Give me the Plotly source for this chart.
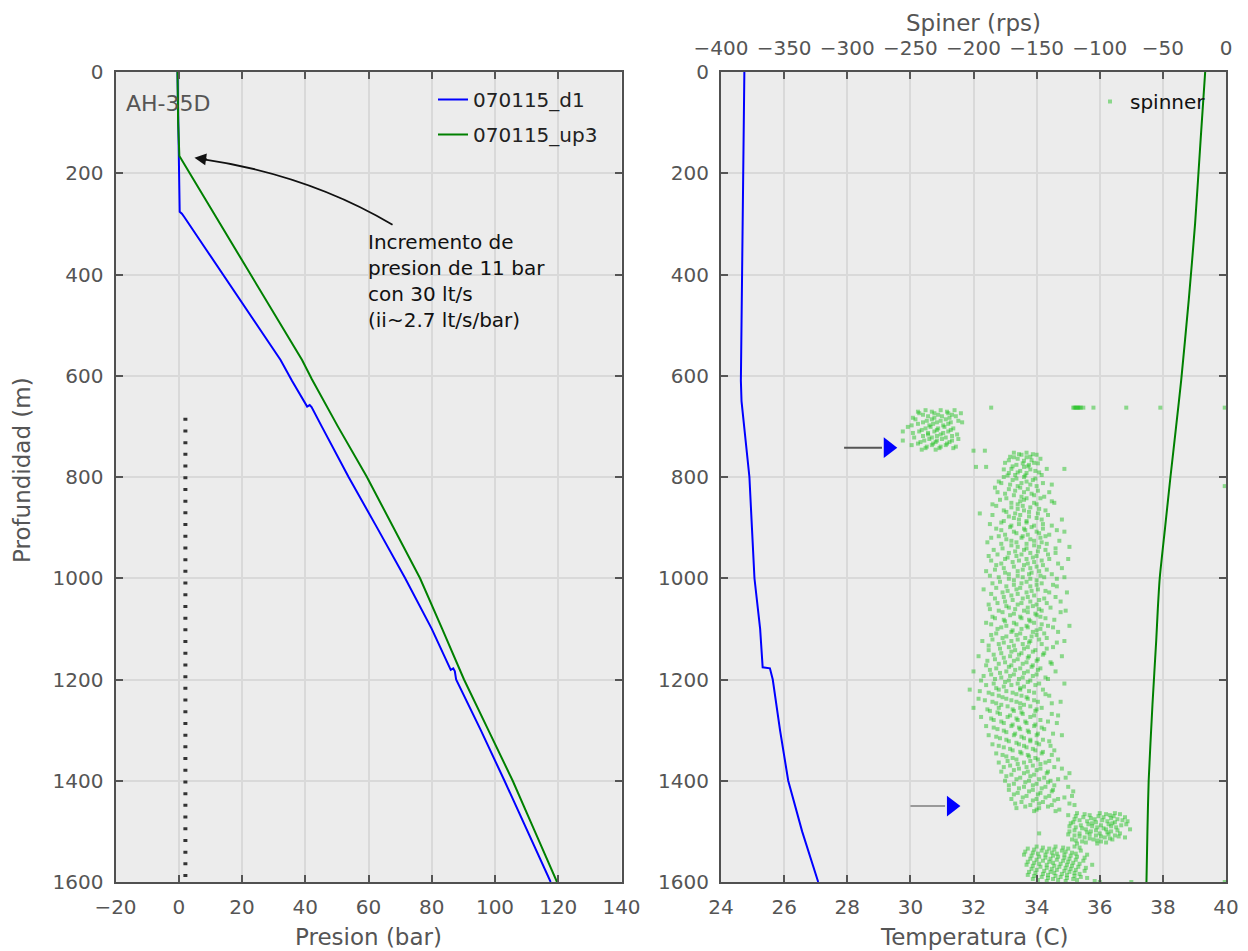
import plotly.graph_objects as go

# page is 1248x951; the html body adds an 8px margin, so the figure is drawn 8px in
PAGE_OFF = 8
W, H = 1240, 943
FONT = "DejaVu Sans"

# ---------------- Left panel: pressure vs depth ----------------
d1_depth = [0, 100, 160, 276, 280, 287, 350, 450, 569, 610, 655, 661, 658, 662, 700, 800,
            900, 1000, 1100, 1175, 1181, 1178, 1184, 1200, 1300, 1400, 1500, 1600]
d1_pres = [-0.4, -0.2, 0.1, 0.3, 1.0, 1.8, 8.6, 19.4, 32.2, 35.8, 40.0, 40.6, 41.4, 42.0, 45.2, 53.7,
           62.7, 71.6, 80.0, 85.7, 86.0, 86.8, 87.3, 87.7, 95.5, 103.0, 110.3, 117.6]

up3_depth = [0, 100, 166, 250, 350, 450, 569, 607, 700, 800, 900, 1000, 1100, 1200, 1300, 1400, 1500, 1600]
up3_pres = [-0.4, -0.2, 0.2, 8.3, 18.0, 27.6, 39.0, 42.1, 50.3, 59.5, 68.0, 76.3, 83.3, 90.2, 97.9, 105.6, 112.6, 119.6]

dotted_pres = [2.1, 2.1]
dotted_depth = [683, 1600]

# ---------------- Right panel: temperature vs depth ----------------
tb_depth = [0, 60, 120, 200, 300, 400, 500, 610, 650, 680, 720, 800, 900, 1000, 1100, 1176,
            1178, 1190, 1200, 1300, 1400, 1500, 1600]
tb_temp = [24.74, 24.73, 24.71, 24.71, 24.69, 24.68, 24.66, 24.63, 24.65, 24.70, 24.78, 24.90, 24.98,
           25.06, 25.24, 25.32, 25.55, 25.60, 25.64, 25.87, 26.13, 26.57, 27.08]

tg_depth = [0, 130, 300, 450, 609, 700, 800, 900, 1000, 1060, 1122, 1250, 1400, 1500, 1600]
tg_temp = [39.34, 39.20, 39.02, 38.82, 38.58, 38.42, 38.24, 38.07, 37.90, 37.84, 37.79, 37.67, 37.55, 37.51, 37.48]

# spinner readings (rps) by depth (m)
spin_rows = [
    (663, [-186, -121, -120, -119, -118, -117, -116, -115, -113, -105, -79, -52, -1]),
    (668, [-238, -226, -215]), (674, [-243, -231, -220, -210]), (680, [-236, -225, -214]),
    (686, [-246, -233, -222]), (692, [-240, -229, -218, -209]), (698, [-249, -235, -224]),
    (704, [-238, -228, -216]), (710, [-256, -243, -231, -220]), (716, [-236, -226, -213]),
    (722, [-247, -233, -222]), (728, [-256, -239, -229, -217]), (734, [-244, -232, -221]),
    (740, [-237, -226, -214]), (746, [-241, -230]), (748, [-200, -191]),
    (671, [-233, -221, -244]), (677, [-240, -228, -217]), (683, [-231, -219, -248]),
    (689, [-237, -226, -212]), (695, [-244, -232, -220]), (701, [-234, -223, -252]),
    (707, [-241, -229, -218]), (713, [-248, -236, -224]), (719, [-240, -229, -217]),
    (725, [-235, -225, -212]), (731, [-242, -230, -219]), (737, [-233, -222, -249]),
    (743, [-238, -227, -216]),
    (752, [-168, -158]), (756, [-162, -150]), (760, [-171, -155]), (764, [-165, -147]),
    (768, [-160]), (772, [-175, -152]), (776, [-166, -156]), (780, [-198, -190, -160]),
    (784, [-170, -142, -128]), (788, [-163, -151]), (792, [-172, -158]), (796, [-167, -146]),
    (800, [-160, -176]), (806, [-169, -153]), (812, [-178, -162, -145]), (818, [-165, -150, -1]),
    (824, [-172, -157]), (830, [-181, -160, -140]), (836, [-168, -152]), (842, [-174, -158, -147]),
    (848, [-163, -138]), (854, [-185, -165, -150]), (860, [-170, -155]), (866, [-176, -160, -143]),
    (872, [-195, -167, -149]), (878, [-172, -156]), (884, [-164, -146, -130]), (890, [-178, -158]),
    (896, [-170, -152, -138]), (902, [-182, -160, -145]), (908, [-168, -150, -128]),
    (914, [-175, -157, -140]), (920, [-186, -162, -147]), (926, [-170, -152, -132]),
    (932, [-178, -158, -142]), (938, [-165, -148, -124]), (944, [-184, -160, -143]),
    (950, [-172, -155, -135]), (956, [-188, -166, -150]), (962, [-175, -158, -140, -125]),
    (968, [-169, -152]), (974, [-182, -160, -145]), (980, [-176, -155, -130]),
    (986, [-190, -165, -148]), (992, [-172, -156, -138]), (998, [-180, -161, -144, -128]),
    (1004, [-168, -150]), (1010, [-185, -162, -146]), (1016, [-174, -155, -134]),
    (1022, [-192, -166, -149]), (1028, [-177, -158, -140, -126]), (1034, [-170, -152]),
    (1040, [-183, -161, -144]), (1046, [-175, -155, -131]), (1052, [-188, -165, -150]),
    (1058, [-172, -157, -139]), (1064, [-180, -160, -146, -127]), (1070, [-168, -151]),
    (1076, [-185, -163, -147]), (1082, [-176, -156, -136]), (1088, [-190, -168, -152]),
    (1094, [-174, -158, -141, -124]), (1100, [-181, -162, -147]), (1106, [-170, -153, -133]),
    (1112, [-186, -166, -150]), (1118, [-177, -159, -142]), (1124, [-193, -170, -155, -128]),
    (1130, [-180, -161, -146]), (1136, [-172, -157, -137]), (1142, [-188, -167, -151]),
    (1148, [-178, -162, -144]), (1154, [-196, -171, -156, -130]), (1160, [-183, -165, -149]),
    (1166, [-175, -158, -139]), (1172, [-190, -170, -153]), (1178, [-182, -163, -147]),
    (1184, [-200, -174, -157, -135]), (1190, [-186, -168, -150]), (1196, [-178, -161, -143]),
    (1202, [-194, -172, -155]), (1208, [-184, -165, -148, -128]), (1214, [-176, -160]),
    (1220, [-203, -180, -163, -145]), (1226, [-188, -169, -152]), (1232, [-180, -162, -140]),
    (1238, [-196, -174, -157]), (1244, [-185, -166, -149, -131]), (1250, [-178, -160]),
    (1256, [-200, -180, -163, -146]), (1262, [-187, -168, -151]), (1268, [-179, -161, -138]),
    (1274, [-194, -173, -155]), (1280, [-184, -165, -147]), (1286, [-176, -158, -134]),
    (1292, [-190, -170, -152]), (1298, [-181, -163, -144]), (1304, [-174, -156]),
    (1310, [-188, -168, -150, -130]), (1316, [-179, -160]), (1322, [-172, -155, -140]),
    (1328, [-185, -164, -148]), (1334, [-176, -158]), (1340, [-169, -151, -136]),
    (1346, [-182, -162, -146]), (1352, [-174, -156]), (1358, [-166, -149, -133]),
    (1364, [-180, -160, -143]), (1370, [-171, -153]), (1376, [-164, -147, -130]),
    (1382, [-178, -157, -141]), (1388, [-170, -152]), (1394, [-163, -144, -127]),
    (1400, [-175, -156, -139]), (1406, [-168, -150]), (1412, [-160, -143, -125]),
    (1418, [-172, -153, -137]), (1424, [-165, -147]), (1430, [-158, -140, -122]),
    (1436, [-170, -150, -133]), (1442, [-162, -145]), (1448, [-155, -138, -120]),
    (1454, [-166, -148]), (1460, [-152, -135]),
    (755, [-164, -153]), (761, [-158, -168]), (767, [-172, -154]), (773, [-161, -149]),
    (779, [-169, -157]), (785, [-176, -155]), (791, [-165, -148]), (797, [-173, -159]),
    (803, [-166, -151]), (809, [-180, -158]), (815, [-171, -155, -138]), (821, [-183, -163]),
    (827, [-167, -149]), (833, [-175, -154]), (839, [-162, -144]), (845, [-179, -160]),
    (851, [-170, -152, -136]), (857, [-182, -161]), (863, [-165, -148]), (869, [-174, -156]),
    (875, [-185, -163, -141]), (881, [-168, -150]), (887, [-176, -158]), (893, [-187, -164, -145]),
    (899, [-171, -154]), (905, [-178, -159, -134]), (911, [-166, -148]), (917, [-180, -161, -143]),
    (923, [-174, -155]), (929, [-189, -166, -146]), (935, [-170, -152]), (941, [-177, -158, -135]),
    (947, [-167, -149]), (953, [-181, -162, -141]), (959, [-173, -153]), (965, [-186, -164, -146]),
    (971, [-178, -157, -133]), (977, [-168, -150]), (983, [-183, -161, -142]), (989, [-175, -154]),
    (995, [-187, -165, -147]), (1001, [-172, -155, -134]), (1007, [-179, -158]),
    (1013, [-168, -150, -137]), (1019, [-182, -163]), (1025, [-173, -154, -143]),
    (1031, [-186, -165]), (1037, [-176, -157, -135]), (1043, [-169, -148]),
    (1049, [-181, -162, -142]), (1055, [-174, -153]), (1061, [-187, -167, -148]),
    (1067, [-177, -157, -131]), (1073, [-171, -150]), (1079, [-183, -162, -143]),
    (1085, [-175, -155]), (1091, [-186, -166, -146]), (1097, [-178, -157, -137]),
    (1103, [-169, -150]), (1109, [-182, -163, -144]), (1115, [-174, -154]),
    (1121, [-185, -165, -148]), (1127, [-176, -156, -134]), (1133, [-188, -168]),
    (1139, [-179, -160, -142]), (1145, [-170, -153]), (1151, [-184, -164, -145]),
    (1157, [-176, -157]), (1163, [-189, -168, -150]), (1169, [-180, -161, -138]),
    (1175, [-172, -154]), (1181, [-187, -167, -149]), (1187, [-179, -160]),
    (1193, [-192, -171, -153]), (1199, [-183, -164, -141]), (1205, [-175, -157]),
    (1211, [-190, -170, -151]), (1217, [-182, -163]), (1223, [-195, -174, -156]),
    (1229, [-185, -166, -143]), (1235, [-177, -158]), (1241, [-191, -170, -152]),
    (1247, [-182, -163, -138]), (1253, [-173, -155]), (1259, [-189, -169, -150]),
    (1265, [-181, -162]), (1271, [-171, -152, -133]), (1277, [-186, -166]),
    (1283, [-178, -159, -141]), (1289, [-169, -151]), (1295, [-184, -164, -146]),
    (1301, [-176, -157]), (1307, [-167, -149, -137]), (1313, [-182, -162]),
    (1319, [-174, -155, -145]), (1325, [-166, -150]), (1331, [-180, -160, -139]),
    (1337, [-171, -153]), (1343, [-163, -145]), (1349, [-177, -157, -138]),
    (1355, [-169, -151]), (1361, [-173, -155, -140]), (1367, [-165, -147]),
    (1373, [-176, -158, -136]), (1379, [-168, -150]), (1385, [-160, -142, -124]),
    (1391, [-174, -155]), (1397, [-166, -148, -133]), (1403, [-159, -141]),
    (1409, [-172, -153, -136]), (1415, [-164, -146]), (1421, [-156, -138, -121]),
    (1427, [-168, -149]), (1433, [-161, -143, -128]), (1439, [-153, -136]),
    (1445, [-167, -148, -124]), (1451, [-159, -141]), (1457, [-150, -132]),
    (1464, [-118, -100, -88]), (1468, [-125, -108, -92]), (1472, [-113, -97, -80]),
    (1476, [-120, -104, -86]), (1480, [-110, -94, -78]), (1484, [-123, -106, -90]),
    (1488, [-115, -99, -83]), (1492, [-119, -102, -87]), (1496, [-111, -95, -76]),
    (1500, [-124, -107, -91]), (1504, [-148, -116, -100, -84]), (1508, [-120, -103, -88]),
    (1512, [-112, -96, -80]), (1516, [-122, -105, -90]), (1520, [-114, -99]), (1524, [-118, -102]),
    (1466, [-112, -95, -84]), (1470, [-119, -101, -89]), (1474, [-107, -91]),
    (1478, [-116, -98, -82]), (1482, [-121, -103, -88]), (1486, [-109, -93, -79]),
    (1490, [-124, -106, -91]), (1494, [-114, -97]), (1498, [-120, -103, -86]),
    (1502, [-110, -94]), (1506, [-125, -108, -93]), (1510, [-116, -99, -85]),
    (1514, [-108, -92]), (1518, [-119, -102]), (1522, [-111, -95]),
    (1530, [-150, -135, -120]), (1534, [-157, -140, -125]), (1538, [-146, -130, -115]),
    (1542, [-153, -138, -122]), (1546, [-160, -143, -128, -110]), (1550, [-148, -133, -118]),
    (1554, [-155, -139, -124]), (1558, [-145, -129, -113]), (1562, [-152, -137, -121]),
    (1566, [-158, -142, -126, -106]), (1570, [-147, -132, -117]), (1574, [-154, -138, -123]),
    (1578, [-144, -128, -112]), (1582, [-151, -136, -120]), (1586, [-157, -141, -126]),
    (1590, [-146, -131, -115]), (1594, [-153, -137, -121]), (1598, [-142, -127, -104]),
    (1532, [-145, -129, -116]), (1536, [-152, -136]), (1540, [-159, -142, -127]),
    (1544, [-149, -134, -119]), (1548, [-154, -137, -123]), (1552, [-143, -128, -112]),
    (1556, [-150, -134, -119]), (1560, [-157, -140, -125]), (1564, [-148, -131, -116]),
    (1568, [-153, -136, -122]), (1572, [-142, -127, -111]), (1576, [-150, -134, -119]),
    (1580, [-156, -139, -124]), (1584, [-145, -130, -116]), (1588, [-152, -135, -120]),
    (1592, [-141, -126, -110]), (1596, [-149, -133, -118]),
    (1600, [-100, -75, -1]),
]

# marker arrows in the right panel (temperature units)
arrow_depth = [742, 1450]
arrow_tail = [27.9, 30.0]
arrow_tip = [29.6, 31.6]
arrow_shaft_color = ["#555555", "#999999"]

spin_depth = [d for d, vals in spin_rows for _ in vals]
spin_rps = [v for d, vals in spin_rows for v in vals]

def px(x):
    """page pixel x -> paper fraction"""
    return (x - PAGE_OFF) / W

def py(y):
    """page pixel y -> paper fraction"""
    return 1 - (y - PAGE_OFF) / H

XL = [px(115.5), px(621.5)]
XR = [px(721), px(1226)]
YD = [py(882), py(72)]

fig = go.Figure()

fig.add_trace(go.Scatter(x=d1_pres, y=d1_depth, mode="lines", name="070115_d1",
                         line=dict(color="#0000ff", width=2), xaxis="x", yaxis="y",
                         legendgroup="a", legend="legend"))
fig.add_trace(go.Scatter(x=up3_pres, y=up3_depth, mode="lines", name="070115_up3",
                         line=dict(color="#008000", width=2), xaxis="x", yaxis="y",
                         legendgroup="b", legend="legend"))
fig.add_trace(go.Scatter(x=dotted_pres, y=dotted_depth, mode="lines", showlegend=False,
                         line=dict(color="#333333", width=4, dash="3px,8.7px"), xaxis="x", yaxis="y"))

fig.add_trace(go.Scatter(x=tb_temp, y=tb_depth, mode="lines", showlegend=False,
                         line=dict(color="#0000ff", width=2), xaxis="x2", yaxis="y2"))
fig.add_trace(go.Scatter(x=tg_temp, y=tg_depth, mode="lines", showlegend=False,
                         line=dict(color="#008000", width=2, shape="spline", smoothing=0.6),
                         xaxis="x2", yaxis="y2"))
fig.add_trace(go.Scatter(x=spin_rps, y=spin_depth, mode="markers", name="spinner",
                         marker=dict(symbol="square", size=4, color="rgba(20,190,20,0.45)",
                                     line=dict(width=0)),
                         xaxis="x3", yaxis="y2", legend="legend2"))

# arrow heads
head_x = [t - 0.3 for t in arrow_tip]
fig.add_trace(go.Scatter(x=head_x, y=arrow_depth, mode="markers", showlegend=False,
                         marker=dict(symbol="triangle-right", size=18, color="#0000ff",
                                     line=dict(width=0)),
                         xaxis="x2", yaxis="y2"))

shapes = []
for d, t0, t1, c in zip(arrow_depth, arrow_tail, arrow_tip, arrow_shaft_color):
    shapes.append(dict(type="line", xref="x2", yref="y2", x0=t0, x1=t1 - 0.5, y0=d, y1=d,
                       line=dict(color=c, width=2)))

# curved arrow for the annotation (data coords of left panel)
curve_start = (67.6, 301.6)
curve_ctrl = (40.7, 201.9)
curve_end = (6.5, 171.0)
shapes.append(dict(type="path", xref="x", yref="y",
                   path=f"M {curve_start[0]},{curve_start[1]} Q {curve_ctrl[0]},{curve_ctrl[1]} {curve_end[0]},{curve_end[1]}",
                   line=dict(color="#111111", width=1.8)))

tick_font = dict(family=FONT, size=20, color="#555555")
title_font = dict(family=FONT, size=23, color="#555555")
axis_common = dict(ticks="inside", ticklen=7, tickwidth=1.5, tickcolor="#555555",
                   showline=True, linecolor="#505050", linewidth=2,
                   gridcolor="#d9d9d9", gridwidth=1.5, zeroline=False,
                   tickfont=tick_font, tickangle=0, automargin=False)

fig.update_layout(
    width=W, height=H,
    margin=dict(l=0, r=0, t=0, b=0, autoexpand=False),
    paper_bgcolor="white", plot_bgcolor="#ececec",
    font=dict(family=FONT),
    xaxis=dict(domain=XL, range=[-20, 140], dtick=20, tick0=0, anchor="y", mirror="ticks",
               ticklabelstandoff=6, **axis_common),
    yaxis=dict(domain=YD, range=[1600, 0], dtick=200, anchor="x", mirror="ticks",
               ticklabelstandoff=6, **axis_common),
    xaxis2=dict(domain=XR, range=[24, 40], dtick=2, anchor="y2", mirror="ticks",
                ticklabelstandoff=6, **axis_common),
    yaxis2=dict(domain=YD, range=[1600, 0], dtick=200, anchor="x2", mirror="ticks",
                ticklabelstandoff=6, **axis_common),
    xaxis3=dict(range=[-400, 0], dtick=50, overlaying="x2", side="top", anchor="y2",
                showgrid=False, ticks="inside", ticklen=7, tickwidth=1.5, tickcolor="#555555",
                showline=False, zeroline=False, tickfont=tick_font, tickangle=0,
                ticklabelstandoff=12, automargin=False),
    legend=dict(x=px(433), y=py(80), xanchor="left", yanchor="top", bgcolor="rgba(0,0,0,0)",
                font=dict(family=FONT, size=20, color="#222222"), traceorder="grouped",
                tracegroupgap=6),
    legend2=dict(x=px(1090), y=py(82), xanchor="left", yanchor="top", bgcolor="rgba(0,0,0,0)",
                 font=dict(family=FONT, size=20, color="#111111")),
    shapes=shapes,
)

ann = []
ann.append(dict(text="AH-35D", x=px(124), y=py(104), xref="paper", yref="paper",
                xanchor="left", yanchor="middle", showarrow=False,
                font=dict(family=FONT, size=22, color="#555555")))
ann.append(dict(text="Incremento de<br>presion de 11 bar<br>con 30 lt/s<br>(ii~2.7 lt/s/bar)",
                x=px(366), y=py(228), xref="paper", yref="paper", xanchor="left", yanchor="top",
                align="left", showarrow=False, font=dict(family=FONT, size=20, color="#111111")))
ann.append(dict(x=4.96, y=169.3, xref="x", yref="y", ax=14, ay=2, text="", showarrow=True,
                arrowhead=2, arrowsize=1.3, arrowwidth=1.8, arrowcolor="#111111"))
ann.append(dict(text="Presion (bar)", x=px(368.5), y=py(937), xref="paper", yref="paper",
                xanchor="center", yanchor="middle", showarrow=False, font=title_font))
ann.append(dict(text="Temperatura (C)", x=px(973.5), y=py(937), xref="paper", yref="paper",
                xanchor="center", yanchor="middle", showarrow=False, font=title_font))
ann.append(dict(text="Spiner (rps)", x=px(973.5), y=py(23), xref="paper", yref="paper",
                xanchor="center", yanchor="middle", showarrow=False, font=title_font))
ann.append(dict(text="Profundidad (m)", x=px(22), y=py(470), xref="paper", yref="paper",
                xanchor="center", yanchor="middle", showarrow=False, textangle=-90,
                font=title_font))
fig.update_layout(annotations=ann)

fig.write_html("out.html")
